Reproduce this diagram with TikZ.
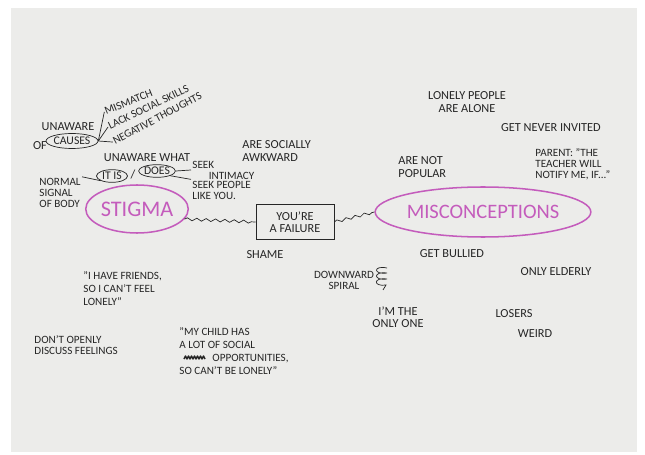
\documentclass[tikz,border=0pt]{standalone}
\usepackage{fontspec}
\setmainfont{Carlito}
\usetikzlibrary{shapes.geometric,decorations.pathmorphing}
\definecolor{ink}{RGB}{38,38,38}
\definecolor{marker}{RGB}{196,92,188}
\definecolor{paper}{RGB}{236,236,234}

\begin{document}
\begin{tikzpicture}[x=0.03cm,y=-0.03cm,
note/.style = {text=ink, font=\fontsize{10.5}{10.5}\selectfont,
     inner sep=1pt, align=left},
small note/.style = {note, font=\fontsize{9.5}{9.5}\selectfont},
slant note/.style = {note, font=\fontsize{9.5}{9.5}\selectfont,
     anchor=south west, inner sep=0.5pt},
ring/.style = {ellipse, draw=ink, semithick, inner sep=0pt,
     text=ink, font=\fontsize{10}{10}\selectfont},
big ring/.style = {ellipse, draw=marker, line width=1.3pt,
     inner sep=0pt, text=marker},
link/.style = {draw=ink, semithick},
wave/.style = {draw=ink, semithick, decorate,
     decoration={snake, amplitude=1.2pt, segment length=8pt}}]

\useasboundingbox (0,0) rectangle (645,455);
\fill[white] (0,0) rectangle (645,455);
\fill[paper] (11,8) rectangle (637,452);

\node[big ring, minimum width=3cm, minimum height=1.44cm,
     font=\fontsize{19}{19}\selectfont] (stigma) at (137,209) {STIGMA};
\node[big ring, minimum width=5.4cm, minimum height=1.5cm,
     font=\fontsize{17.5}{17.5}\selectfont] (misc) at (483,212) {MISCONCEPTIONS};
\node[draw=ink, semithick, note, align=center, minimum width=2.34cm,
     minimum height=1.05cm] (fail) at (295,222) {YOU'RE\\A FAILURE};
\draw[wave] (stigma.-12) -- (fail.west);
\draw[wave] (fail.east) -- (misc.west);

\node[note] (unaware) at (68,127) {UNAWARE};
\node[note] (of) at (40,146) {OF};
\node[ring, minimum width=1.29cm, minimum height=0.45cm] (causes) at (72,141) {CAUSES};
\node[slant note, rotate=22] (mismatch) at (106,116) {MISMATCH};
\node[slant note, rotate=26] (lack) at (110,131) {LACK SOCIAL SKILLS};
\node[slant note, rotate=28] (negative) at (115,146) {NEGATIVE THOUGHTS};
\foreach \t in {mismatch,lack,negative} {
      \draw[link] (causes.east) -- (\t.west);
    }

\node[note] (what) at (147,158) {UNAWARE WHAT};
\node[ring, minimum width=0.93cm, minimum height=0.38cm] (itis) at (112,176) {IT IS};
\node[note] (slash) at (133,174) {/};
\node[ring, minimum width=1.05cm, minimum height=0.38cm] (does) at (157,171) {DOES};
\node[small note, anchor=west] (normal) at (38,193) {NORMAL\\SIGNAL\\OF BODY};
\node[small note, anchor=west] (intimacy) at (191,170) {SEEK\\\hspace{14pt}INTIMACY};
\node[small note, anchor=west] (people) at (191,190) {SEEK PEOPLE\\LIKE YOU.};
\draw[link] (itis.south west) -- (normal.north east);
\draw[link] (does.east) -- (intimacy.west);
\draw[link] (does.south east) -- (people.north west);

\node[note, anchor=west] (awkward) at (241,151) {ARE SOCIALLY\\AWKWARD};
\node[note, align=center] (lonely) at (467,102) {LONELY PEOPLE\\ARE ALONE};
\node[note, anchor=west] (popular) at (397,167) {ARE NOT\\POPULAR};
\node[small note, anchor=west] (parent) at (534,164) {PARENT: "THE\\TEACHER WILL\\NOTIFY ME, IF..."};
\node[small note, align=center] (downward) at (344,280) {DOWNWARD\\SPIRAL};
\draw[ink, semithick] (387,268) .. controls (373,265) and (373,275) .. (387,273)
     .. controls (373,271) and (373,281) .. (387,279)
     .. controls (373,277) and (373,287) .. (386,285) -- (383,290);
\node[note, align=center] (onlyone) at (398,317) {I'M THE\\ONLY ONE};

\foreach \n/\x/\y/\t in {invited/551/128/GET NEVER INVITED,
     bullied/452/254/GET BULLIED, shame/265/255/SHAME,
     elderly/556/272/ONLY ELDERLY, losers/514/314/LOSERS,
     weird/535/334/WEIRD} {
      \node[note] (\n) at (\x,\y) {\t};
    }

\node[small note, anchor=west, font=\fontsize{9.5}{11}\selectfont] (friends) at (82,289)
     {"I HAVE FRIENDS,\\SO I CAN'T FEEL\\LONELY"};
\node[small note, anchor=west] (openly) at (33,345) {DON'T OPENLY\\DISCUSS FEELINGS};
\node[small note, anchor=west, font=\fontsize{9.5}{11}\selectfont] (child) at (178,351)
     {"MY CHILD HAS\\A LOT OF SOCIAL\\\hspace{26pt} OPPORTUNITIES,\\SO CAN'T BE LONELY"};
\draw[ink, line width=1.2pt, line join=round] (184,359)
     \foreach \i in {1,...,7} {-- ++(1.5,-3) -- ++(1.5,3)};

\end{tikzpicture}
\end{document}
